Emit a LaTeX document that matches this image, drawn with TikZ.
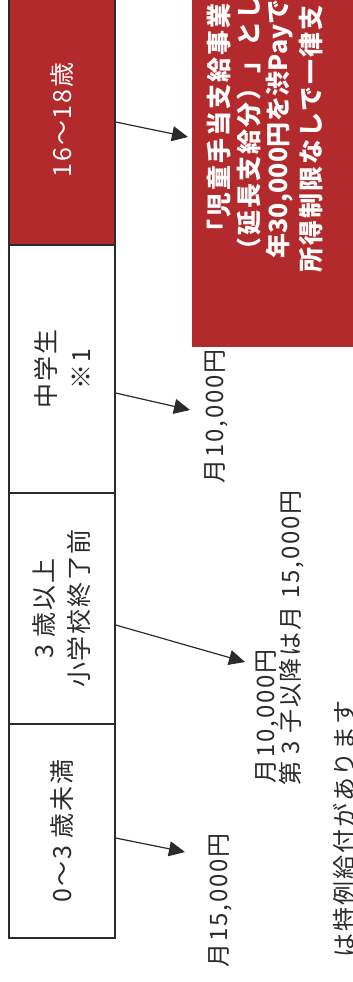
\documentclass[tikz,border=0pt]{standalone}
\usepackage{fontspec}
\setmainfont{Noto Sans CJK JP}
\newfontfamily\jpt{Noto Sans CJK JP}[LetterSpace=7]
\newfontfamily\jpl{Noto Sans CJK JP}[LetterSpace=8]
\newfontfamily\jpr{Noto Sans CJK JP}[LetterSpace=8]
\newfontfamily\jprn{Noto Sans CJK JP}[LetterSpace=1]
\usetikzlibrary{arrows.meta}
\definecolor{redc}{HTML}{B32A2C}
\definecolor{ink}{HTML}{2B2B2B}
\begin{document}
\begin{tikzpicture}[x=1pt,y=-1pt,
  cell/.style={draw=ink, line width=1.3pt, rotate=90, inner sep=0pt, align=center,
    font=\jpt\fontsize{25}{35}\selectfont, text=ink},
  lab/.style={rotate=90, anchor=west, inner sep=0pt, font=\jpl\fontsize{24}{28}\selectfont, text=ink},
  rtext/.style={rotate=90, anchor=west, inner sep=0pt, text=white,
    font=\jpr\bfseries\fontsize{25}{28}\selectfont},
  arr/.style={draw=ink, line width=1.2pt, -{Triangle[length=16pt,width=15pt]}}]
\useasboundingbox (0,0) rectangle (353,982);
\clip (0,0) rectangle (353,982);
% red box
\node[fill=redc, minimum width=175pt, minimum height=352pt, inner sep=0pt, anchor=north west] (rb) at (192,-5) {};
\node[rtext] (r1) at (219,245) {「児童手当支給事業};
\node[rtext] (r2) at (249,263) {（延長支給分）」とし};
\node[rtext, font=\jprn\bfseries\fontsize{25}{28}\selectfont] (r3) at (280,259) {年30,000円を渋Payで};
\node[rtext] (r4) at (311,273) {所得制限なしで一律支};
% table cells
\node[cell, fill=redc, text=white, minimum width=250pt, minimum height=106pt] (c1) at (62,120) {16～18歳};
\node[cell, minimum width=248pt, minimum height=106pt] (c2) at (62,369) {中学生\\※1};
\node[cell, minimum width=231pt, minimum height=106pt] (c3) at (62,608.5) {3 歳以上\\小学校終了前};
\node[cell, minimum width=214pt, minimum height=106pt] (c4) at (62,831) {0～3 歳未満};
% labels
\node[lab] (l2) at (216,484) {月10,000円};
\node[lab] (l3a) at (267,784) {月10,000円};
\node[lab] (l3b) at (292,786) {第 3 子以降は月 15,000円};
\node[lab] (l4) at (220,968) {月15,000円};
\node[lab, anchor=east] (n1) at (344,700) {は特例給付があります};
% arrow tips
\coordinate (t1) at (188,137);
\coordinate (t2) at (190,410);
\coordinate (t3) at (245,662);
\coordinate (t4) at (185,852);
\draw[arr] ([yshift=-2pt]c1.south) -- (t1);
\draw[arr] ([yshift=-24pt]c2.south) -- (t2);
\draw[arr] ([yshift=-16.5pt]c3.south) -- (t3);
\draw[arr] ([yshift=-7pt]c4.south) -- (t4);
\end{tikzpicture}
\end{document}
